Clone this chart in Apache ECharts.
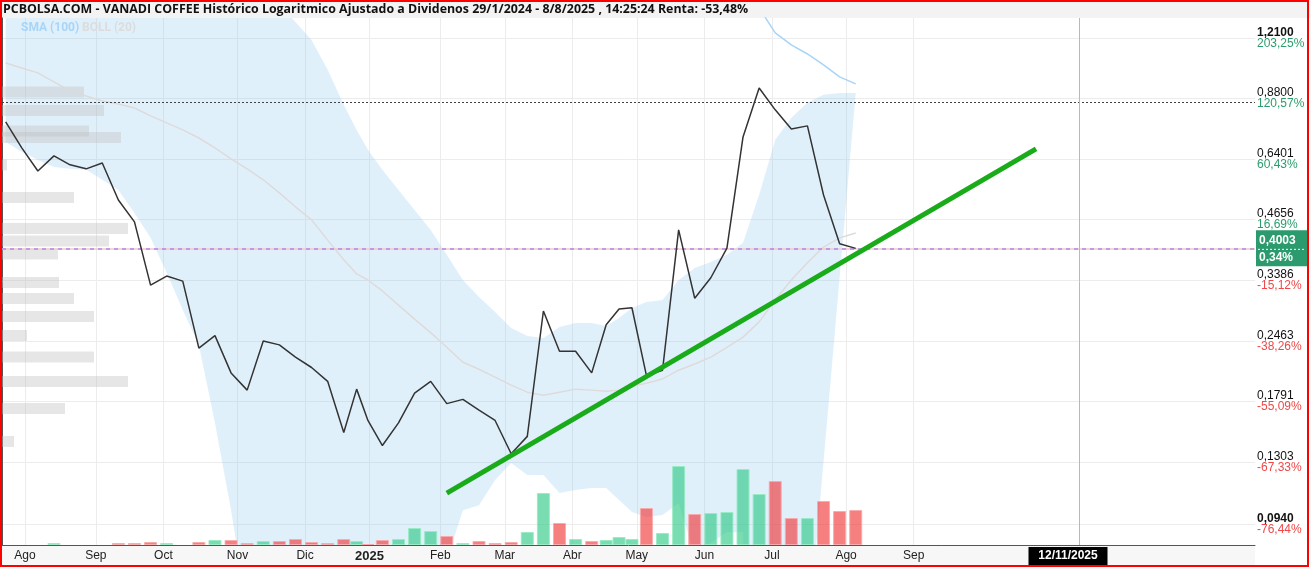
<!DOCTYPE html>
<html>
<head>
<meta charset="utf-8">
<script src="https://cdn.jsdelivr.net/npm/echarts@6/dist/echarts.min.js"></script>
<style>
  html, body { margin: 0; padding: 0; background: #fff; }
  #main { width: 1310px; height: 567px; }
</style>
</head>
<body>
<div id="main"></div>
<script>
// weekly bars, one per week starting on these mondays
const firstWeek = '2024-07-22';
const closes = [0.778, 0.679, 0.601, 0.651, 0.621, 0.608, 0.627, 0.516, 0.460, 0.330,
  0.346, 0.337, 0.237, 0.253, 0.208, 0.190, 0.246, 0.241, 0.226, 0.214,
  0.199, 0.152, 0.191, 0.162, 0.142, 0.160, 0.187, 0.199, 0.177, 0.181,
  0.171, 0.162, 0.136, 0.149, 0.288, 0.233, 0.233, 0.208, 0.268, 0.291,
  0.293, 0.205, 0.211, 0.441, 0.308, 0.343, 0.401, 0.719, 0.930, 0.829,
  0.750, 0.762, 0.530, 0.410, 0.4003];
const volumes = [0, 0, 0, 2, 0, 0, 0, 2, 2, 3,
  2, 0, 3, 5, 5, 2, 4, 4, 6, 3,
  2, 6, 4, 1, 5, 6, 17, 14, 9, 2,
  4, 2, 3, 13, 52, 22, 6, 4, 5, 8,
  6, 37, 12, 79, 31, 32, 33, 76, 51, 64,
  27, 27, 44, 34, 35];
const bollUpper = [2.5, 2.45, 2.4, 2.3, 2.2, 2.1, 2.0, 1.95, 1.9, 1.85,
  1.8, 1.75, 1.7, 1.62, 1.55, 1.5, 1.47, 1.439, 1.316, 1.197,
  1.023, 0.851, 0.746, 0.672, 0.605, 0.544, 0.490, 0.441, 0.387, 0.339,
  0.310, 0.2866, 0.2634, 0.2525, 0.250, 0.2648, 0.2704, 0.2704, 0.2662, 0.2776,
  0.2926, 0.302, 0.3052, 0.339, 0.361, 0.3727, 0.387, 0.412, 0.530, 0.708,
  0.795, 0.860, 0.897, 0.906, 0.906];
const bollMiddle = [1.061, 1.033, 1.007, 0.960, 0.916, 0.892, 0.869, 0.855, 0.837, 0.803,
  0.774, 0.746, 0.715, 0.679, 0.641, 0.608, 0.574, 0.536, 0.498, 0.465,
  0.418, 0.377, 0.350, 0.339, 0.320, 0.297, 0.276, 0.257, 0.238, 0.220,
  0.212, 0.2035, 0.195, 0.188, 0.185, 0.188, 0.191, 0.190, 0.189, 0.190,
  0.194, 0.197, 0.2015, 0.211, 0.218, 0.226, 0.238, 0.251, 0.272, 0.305,
  0.339, 0.371, 0.403, 0.423, 0.434];
// null where the lower band falls below zero
const bollLower = [0.700, 0.665, 0.637, 0.614, 0.608, 0.605, 0.574, 0.544, 0.482, 0.423,
  0.352, 0.2896, 0.2409, 0.1599, 0.1011, 0.0598, null, null, null, null,
  null, null, null, null, null, null, null, null, 0.0778, 0.1011,
  0.1038, 0.1185, 0.1296, 0.1216, 0.1216, 0.1106, 0.1124, 0.1136, 0.1136, 0.1066,
  0.1001, 0.0975, 0.0985, 0.1049, 0.080, 0.085, 0.090, 0.090, 0.0027, null,
  null, null, null, null, null];
const sma100 = [null, null, null, null, null, null, null, null, null, null,
  null, null, null, null, null, null, null, null, null, null,
  null, null, null, null, null, null, null, null, null, null,
  null, null, null, null, null, null, null, null, null, null,
  null, null, null, null, null, null, 1.9, 1.642, 1.417, 1.242,
  1.166, 1.112, 1.050, 0.986, 0.950];

const monthStarts = ['2024-08-01', '2024-09-01', '2024-10-01', '2024-11-01', '2024-12-01', '2025-01-01', '2025-02-01',
  '2025-03-01', '2025-04-01', '2025-05-01', '2025-06-01', '2025-07-01', '2025-08-01', '2025-09-01'];
const monthLabels = ['Ago', 'Sep', 'Oct', 'Nov', 'Dic', '2025', 'Feb', 'Mar', 'Abr', 'May', 'Jun', 'Jul', 'Ago', 'Sep'];

const priceTicks = [1.21, 0.88, 0.6401, 0.4656, 0.3386, 0.2463, 0.1791, 0.1303, 0.094];
const priceTickLabels = ['1,2100', '0,8800', '0,6401', '0,4656', '0,3386', '0,2463', '0,1791', '0,1303', '0,0940'];
const pctTickLabels = ['203,25%', '120,57%', '60,43%', '16,69%', '-15,12%', '-38,26%', '-55,09%', '-67,33%', '-76,44%'];

// volume by price (left side)
const profilePrices = [0.911, 0.8265, 0.742, 0.717, 0.6206, 0.523, 0.4443, 0.4161, 0.3887, 0.3346,
  0.3076, 0.2799, 0.2532, 0.2262, 0.1988, 0.1725, 0.1451];
const profileVolumes = [82, 102, 87, 119, 5, 72, 126, 107, 56, 57,
  72, 92, 25, 92, 126, 63, 12];

const trendLine = [['2025-02-05', 0.1106], ['2025-10-23', 0.675]];
const resistance = 0.864;
const lastPrice = 0.4003;
const lastPriceLabel = '0,4003';
const lastPctLabel = '0,34%';
const cursorDate = '2025-11-12';
const cursorLabel = '12/11/2025';
const holidays = ['2024-12-25', '2024-12-26', '2025-01-01', '2025-04-18', '2025-04-21', '2025-05-01'];

const title = 'PCBOLSA.COM - VANADI COFFEE Histórico Logaritmico Ajustado a Dividenos 29/1/2024 - 8/8/2025 , 14:25:24 Renta: -53,48%';

// ---- trading session axis ----
const DAY = 864e5;
const iso = t => new Date(t).toISOString().slice(0, 10);
const sessions = [];
for (let t = Date.UTC(2024, 6, 1); t <= Date.UTC(2026, 2, 31); t += DAY) {
  const wd = new Date(t).getUTCDay();
  if (wd > 0 && wd < 6 && holidays.indexOf(iso(t)) < 0) sessions.push(iso(t));
}
const sessionOf = s => sessions.findIndex(d => d >= s);
function weekX(k) {
  const mon = Date.parse(firstWeek + 'T00:00:00Z') + k * 7 * DAY;
  const a = sessionOf(iso(mon));
  const b = sessionOf(iso(mon + 7 * DAY)) - 1;
  return (a + b) / 2;
}
const weekXs = closes.map((c, k) => weekX(k));
const monthXs = monthStarts.map(sessionOf);
const L = Math.log;

const xMin = 15.86, xMax = 405.0;
const yMin = L(0.08418), yMax = L(1.3435);
const tickLn = priceTicks.map(L);

const nearest = (arr, v) => {
  let best = 0;
  arr.forEach((a, i) => { if (Math.abs(a - v) < Math.abs(arr[best] - v)) best = i; });
  return best;
};

const GREEN = 'rgba(40,200,130,0.62)';
const RED = 'rgba(240,50,50,0.62)';
const GREEN_EDGE = 'rgba(150,235,195,0.9)';
const RED_EDGE = 'rgba(250,170,170,0.9)';

const chart = echarts.init(document.getElementById('main'));

const option = {
  animation: false,
  backgroundColor: '#fff',
  grid: [
    { left: 2, right: 55, top: 18, bottom: 22 },
    { left: 2, right: 55, bottom: 22, height: 100 }
  ],
  xAxis: [
    {
      type: 'value', gridIndex: 0, min: xMin, max: xMax,
      axisLine: { show: true, onZero: false, lineStyle: { color: '#555', width: 1 } },
      axisTick: { show: false, customValues: monthXs },
      splitLine: { show: true, lineStyle: { color: '#ececec', width: 1 } },
      axisLabel: {
        customValues: monthXs,
        margin: 5,
        formatter: v => {
          const i = nearest(monthXs, v);
          return monthLabels[i] === '2025' ? '{b|2025}' : '{n|' + monthLabels[i] + '}';
        },
        rich: {
          n: { fontFamily: 'Liberation Sans', fontSize: 12, color: '#222' },
          b: { fontFamily: 'Liberation Sans', fontSize: 13, fontWeight: 'bold', color: '#222' }
        }
      }
    },
    { type: 'value', gridIndex: 0, min: 0, max: 1253, show: false },
    { type: 'value', gridIndex: 1, min: xMin, max: xMax, show: false }
  ],
  yAxis: [
    {
      type: 'value', gridIndex: 0, position: 'right', min: yMin, max: yMax,
      axisLine: { show: true, lineStyle: { color: '#555', width: 1 } },
      axisTick: { show: false, customValues: tickLn },
      splitLine: { show: true, lineStyle: { color: '#ececec', width: 1 } },
      axisLabel: {
        customValues: tickLn,
        margin: 2,
        align: 'left',
        formatter: v => {
          const i = nearest(tickLn, v);
          const vs = (i === 0 || i === tickLn.length - 1) ? 'vb' : 'v';
          const ps = pctTickLabels[i].charAt(0) === '-' ? 'r' : 'g';
          return '{' + vs + '|' + priceTickLabels[i] + '}\n{' + ps + '|' + pctTickLabels[i] + '}';
        },
        rich: {
          v: { fontFamily: 'Liberation Sans', fontSize: 12, color: '#111', lineHeight: 11 },
          vb: { fontFamily: 'Liberation Sans', fontSize: 12, color: '#111', fontWeight: 'bold', lineHeight: 11 },
          g: { fontFamily: 'Liberation Sans', fontSize: 12, color: '#2a9d6c', lineHeight: 11 },
          r: { fontFamily: 'Liberation Sans', fontSize: 12, color: '#f04848', lineHeight: 11 }
        }
      }
    },
    { type: 'value', gridIndex: 1, min: 0, max: 100, show: false }
  ],
  series: [
    {
      // bollinger band fill
      type: 'custom', xAxisIndex: 0, yAxisIndex: 0, clip: true, silent: true, z: 1,
      data: [[weekXs[0], L(bollMiddle[0])]],
      renderItem: (params, api) => {
        const pts = [];
        weekXs.forEach((x, k) => pts.push(api.coord([x, L(bollUpper[k])])));
        for (let k = weekXs.length - 1; k >= 0; k--) {
          if (bollLower[k] != null) pts.push(api.coord([weekXs[k], L(bollLower[k])]));
        }
        return { type: 'polygon', shape: { points: pts }, style: { fill: 'rgba(140,200,240,0.27)' } };
      }
    },
    {
      // volume profile
      type: 'custom', xAxisIndex: 1, yAxisIndex: 0, silent: true, z: 2,
      data: profilePrices.map((p, i) => [profileVolumes[i], L(p)]),
      renderItem: (params, api) => {
        const a = api.coord([0, api.value(1)]);
        const b = api.coord([api.value(0), api.value(1)]);
        return { type: 'rect', shape: { x: a[0], y: a[1] - 5.5, width: b[0] - a[0], height: 11 },
          style: { fill: 'rgba(190,190,190,0.38)' } };
      }
    },
    {
      name: 'volumen', type: 'bar', xAxisIndex: 2, yAxisIndex: 1, barWidth: 13, z: 3, silent: true,
      data: volumes.map((v, k) => {
        const up = k === 0 || closes[k] >= closes[k - 1];
        return {
          value: [weekXs[k], v],
          itemStyle: { color: up ? GREEN : RED, borderColor: up ? GREEN_EDGE : RED_EDGE, borderWidth: v > 0 ? 1 : 0 }
        };
      })
    },
    {
      name: 'BOLL (20)', type: 'line', xAxisIndex: 0, yAxisIndex: 0, symbol: 'none', silent: true, z: 4,
      lineStyle: { color: '#dedada', width: 1.5 },
      data: bollMiddle.map((v, k) => [weekXs[k], L(v)])
    },
    {
      name: 'SMA (100)', type: 'line', xAxisIndex: 0, yAxisIndex: 0, symbol: 'none', silent: true, z: 4,
      lineStyle: { color: '#a8d5f7', width: 1.5 },
      data: sma100.map((v, k) => [weekXs[k], v == null ? null : L(v)]).filter(d => d[1] != null)
    },
    {
      name: 'VANADI COFFEE', type: 'line', xAxisIndex: 0, yAxisIndex: 0, symbol: 'none', silent: true, z: 6,
      lineStyle: { color: '#333', width: 1.5 },
      data: closes.map((v, k) => [weekXs[k], L(v)]),
      markLine: {
        silent: true, symbol: 'none', label: { show: false },
        data: [
          { yAxis: L(resistance), lineStyle: { color: '#444', type: [2, 2], width: 1 } },
          { yAxis: L(lastPrice), lineStyle: { color: '#f6c6d2', type: 'solid', width: 1.5 } },
          { yAxis: L(lastPrice), lineStyle: { color: '#b08ae0', type: [4, 4], width: 1.5 } }
        ]
      }
    },
    {
      name: 'tendencia', type: 'line', xAxisIndex: 0, yAxisIndex: 0, symbol: 'none', silent: true, z: 7,
      lineStyle: { color: '#1aab1a', width: 5 },
      data: trendLine.map(d => [sessionOf(d[0]), L(d[1])])
    }
  ]
};
chart.setOption(option);

// labels that follow the scales
const yLast = chart.convertToPixel({ yAxisIndex: 0 }, L(lastPrice));
const xCursor = Math.round(chart.convertToPixel({ xAxisIndex: 0 }, sessionOf(cursorDate))) - 1.5;
chart.setOption({
  graphic: [
    { type: 'rect', z: -10, silent: true, shape: { x: 0, y: 0, width: 1310, height: 18 }, style: { fill: '#f3f3f3' } },
    { type: 'rect', z: -10, silent: true, shape: { x: 2, y: 546, width: 1253, height: 20 }, style: { fill: '#f7f7f7' } },
    { type: 'line', z: 5, silent: true, shape: { x1: xCursor, y1: 18, x2: xCursor, y2: 545 }, style: { stroke: '#f2a0a0', lineWidth: 1 } },
    { type: 'text', x: 3, y: 9, silent: true, style: { text: title, font: 'bold 12.4px "Open Sans"', fill: '#111', verticalAlign: 'middle' } },
    { type: 'text', x: 21, y: 28, silent: true, z: 10, style: { text: 'SMA (100)', font: 'bold 12px Roboto', fill: '#a8d5f7', verticalAlign: 'middle' } },
    { type: 'text', x: 82, y: 28, silent: true, z: 10, style: { text: 'BOLL (20)', font: 'bold 12px Roboto', fill: '#dcdcdc', verticalAlign: 'middle' } },
    { type: 'rect', z: 20, silent: true, shape: { x: 1256, y: yLast - 18, width: 52, height: 36 }, style: { fill: '#2b9a6d' } },
    { type: 'line', z: 21, silent: true, shape: { x1: 1258, y1: yLast + 1, x2: 1306, y2: yLast + 1 }, style: { stroke: '#fff', lineDash: [2, 2], lineWidth: 1 } },
    { type: 'text', z: 21, silent: true, x: 1259, y: yLast - 8, style: { text: lastPriceLabel, font: 'bold 12px "Liberation Sans"', fill: '#fff', verticalAlign: 'middle' } },
    { type: 'text', z: 21, silent: true, x: 1259, y: yLast + 9, style: { text: lastPctLabel, font: 'bold 12px "Liberation Sans"', fill: '#fff', verticalAlign: 'middle' } },
    { type: 'rect', z: 20, silent: true, shape: { x: xCursor - 51, y: 547, width: 79, height: 18 }, style: { fill: '#000' } },
    { type: 'text', z: 21, silent: true, x: xCursor - 11.5, y: 556, style: { text: cursorLabel, font: 'bold 12px "Liberation Sans"', fill: '#fff', align: 'center', verticalAlign: 'middle' } },
    { type: 'rect', z: 30, silent: true, shape: { x: 1, y: 1, width: 1307, height: 565 }, style: { fill: null, stroke: '#f00', lineWidth: 2 } }
  ]
});
</script>
</body>
</html>
